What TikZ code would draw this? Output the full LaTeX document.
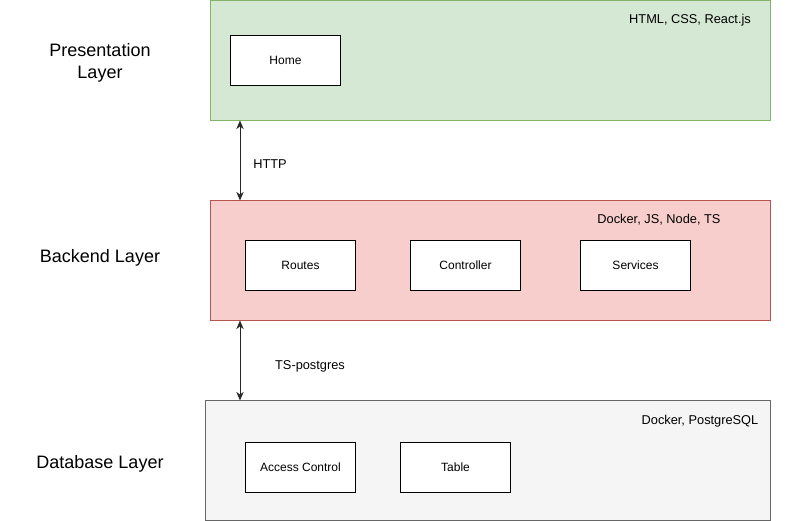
\documentclass[tikz,border=0pt]{standalone}
\usepackage{fontspec}
\setmainfont{Liberation Sans}
\usetikzlibrary{arrows.meta}
\definecolor{gfill}{HTML}{D5E8D4}\definecolor{gline}{HTML}{82B366}
\definecolor{rfill}{HTML}{F8CECC}\definecolor{rline}{HTML}{B85450}
\definecolor{dfill}{HTML}{F5F5F5}\definecolor{dline}{HTML}{666666}
\begin{document}
\begin{tikzpicture}[x=0.75pt,y=-0.75pt,
  layer/.style={draw, line width=0.75pt, inner sep=0pt, outer sep=0pt, minimum height=90pt},
  inner/.style={draw=black, fill=white, line width=0.75pt, minimum width=82.5pt, minimum height=37.5pt, font=\fontsize{9}{11}\selectfont},
  tech/.style={font=\fontsize{9.6}{12}\selectfont},
  lname/.style={font=\fontsize{13.5}{16.5}\selectfont, align=center},
  conn/.style={{Stealth[length=6.5pt,width=5.5pt]}-{Stealth[length=6.5pt,width=5.5pt]}, line width=0.75pt, draw=black!85}]
\useasboundingbox (0,0) rectangle (801,521);
% layers
\node[layer, draw=gline, fill=gfill, minimum width=420pt] (pres) at (490.5,60.5) {};
\node[layer, draw=rline, fill=rfill, minimum width=420pt] (back) at (490.5,260.5) {};
\node[layer, draw=dline, fill=dfill, minimum width=423.75pt] (db) at (488,460.5) {};
\coordinate (ax) at (240,0);
% tech labels
\node[tech] (t1) at (690,20) {HTML, CSS, React.js};
\node[tech] (t2) at (659,220) {Docker, JS, Node, TS};
\node[tech] (t3) at (700,421) {Docker, PostgreSQL};
% inner boxes
\node[inner] (home) at (285.5,60.5) {Home};
\node[inner] (routes) at (300.5,265.5) {Routes};
\node[inner] (ctrl) at (465.5,265.5) {Controller};
\node[inner] (serv) at (635.5,265.5) {Services};
\node[inner] (acc) at (300.5,467.5) {Access Control};
\node[inner] (tab) at (455.5,467.5) {Table};
% layer names
\node[lname] (lp) at (100,62.5) {Presentation\\Layer};
\node[lname] (lb) at (100,257.5) {Backend Layer};
\node[lname] (ld) at (100,463.5) {Database Layer};
% connectors
\draw[conn] (pres.south -| ax) -- (back.north -| ax);
\draw[conn] (back.south -| ax) -- (db.north -| ax);
\node[tech] (http) at (270,164) {HTTP};
\node[tech] (tsp) at (310,366) {TS-postgres};
\end{tikzpicture}
\end{document}
